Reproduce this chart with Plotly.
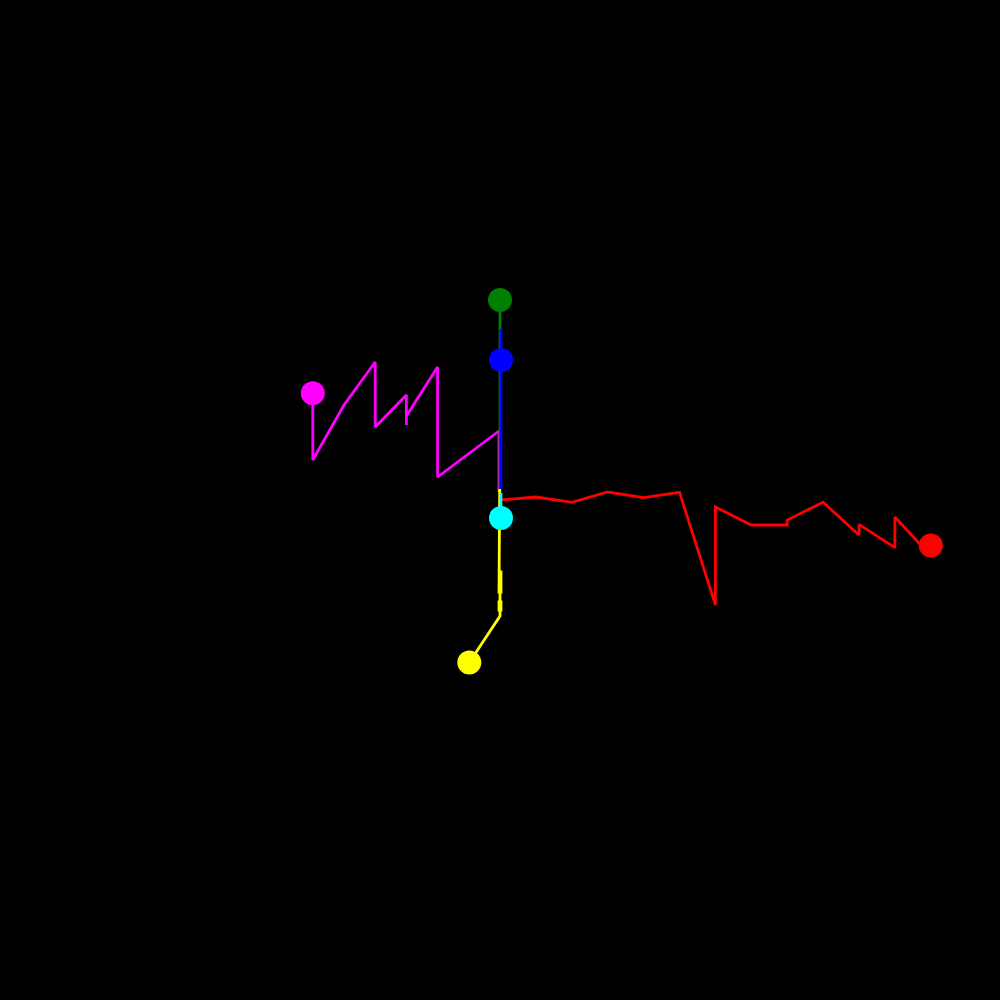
import plotly.graph_objects as go

# Series values (offsets from the common origin)
red_x = [0, 35.9, 71.8, 107.7, 143.6, 179.5, 215.4, 215.4, 251.3, 287.2, 287.2, 323.1, 359.0, 359.0, 394.9, 394.9, 430.8, 430.8]
red_y = [0, 3, -2.3, 8, 2.3, 7.7, -105, -7, -25, -25, -20, -2.3, -35, -24.3, -47.7, -17, -56, -45.5]

green_x = [0, 0]
green_y = [8, 200]

blue_x = [1, 1, 1]
blue_y = [11, 171, 140]

yellow_x = [-0.3, -0.3, -1.0, -1.0, 1.0, 1.0, 0, 0, -1.0, -1.0, 1.0, 1.0, 0, 0, -30.7]
yellow_y = [11, -72, -72, -92, -92, -72, -72, -102, -102, -110, -110, -102, -102, -116, -162.5]

magenta_x = [-1, -1, -62.4, -62.4, -93.6, -93.6, -93.6, -124.8, -124.8, -156.0, -187.2, -187.2]
magenta_y = [8, 69, 23, 133, 84, 75, 105, 73, 138, 95, 40, 106.7]

cyan_x = [1, 1]
cyan_y = [7, -18]

series = [
    ("red", red_x, red_y),
    ("magenta", magenta_x, magenta_y),
    ("green", green_x, green_y),
    ("blue", blue_x, blue_y),
    ("yellow", yellow_x, yellow_y),
    ("cyan", cyan_x, cyan_y),
]

fig = go.Figure()
for color, xs, ys in series:
    fig.add_trace(go.Scatter(x=xs, y=ys, mode="lines",
                             line=dict(color=color, width=2.8),
                             hoverinfo="skip"))
for color, xs, ys in series:
    fig.add_trace(go.Scatter(x=[xs[-1]], y=[ys[-1]], mode="markers",
                             marker=dict(color=color, size=24, line=dict(width=0)),
                             hoverinfo="skip"))

fig.update_layout(
    width=1000, height=1000,
    margin=dict(l=0, r=0, t=0, b=0),
    paper_bgcolor="black", plot_bgcolor="black",
    showlegend=False,
    xaxis=dict(visible=False, range=[-500, 500]),
    yaxis=dict(visible=False, range=[-500, 500]),
)

fig.write_html("out.html",
               config={"displayModeBar": False},
               post_script="document.body.style.margin='0';document.body.style.background='black';document.body.style.overflow='hidden';")
